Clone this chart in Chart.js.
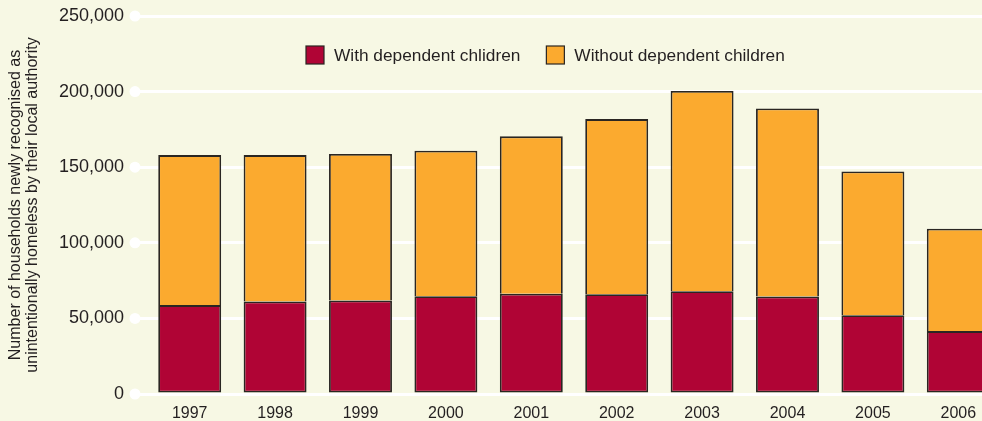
<!DOCTYPE html>
<html>
<head>
<meta charset="utf-8">
<title>Unintentionally homeless households</title>
<script src="https://cdn.jsdelivr.net/npm/chart.js@4"></script>
<style>
  html, body { margin: 0; padding: 0; background: #f7f8e4; overflow: hidden; }
  #wrap { width: 1002px; height: 421px; }
</style>
</head>
<body>
<div id="wrap"><canvas id="homelessChart" width="1002" height="421"></canvas></div>
<script>
const years = ['1997', '1998', '1999', '2000', '2001', '2002', '2003', '2004', '2005', '2006'];
// households
const withChildren    = [58800, 61200, 61900, 64700, 66300, 66000, 68000, 64500, 52100, 41600];
const withoutChildren = [99200, 96800, 96800, 96200, 104100, 115800, 132400, 124400, 95100, 67700];
const yTicks = [0, 50000, 100000, 150000, 200000, 250000];

const textColor = '#231f20';
const fontFamily = '"Liberation Sans", Arial, Helvetica, sans-serif';

// white dots at the left end of every gridline
const tickDots = {
  id: 'tickDots',
  afterDraw(chart) {
    const y = chart.scales.y;
    const ctx = chart.ctx;
    ctx.save();
    ctx.fillStyle = '#ffffff';
    y.ticks.forEach(t => {
      const py = y.getPixelForValue(t.value);
      ctx.beginPath();
      ctx.arc(y.right - 12, py, 5.5, 0, Math.PI * 2);
      ctx.fill();
    });
    ctx.restore();
  }
};

// legend sits inside the plot area, under the top gridline
const innerLegend = {
  id: 'innerLegend',
  afterDraw(chart) {
    const ctx = chart.ctx;
    const box = 18;
    let x = chart.chartArea.left + 159;
    const cy = chart.chartArea.top + 39;
    ctx.save();
    ctx.font = '17.3px ' + fontFamily;
    ctx.textBaseline = 'middle';
    chart.data.datasets.forEach(ds => {
      ctx.fillStyle = ds.backgroundColor;
      ctx.fillRect(x, cy - box / 2, box, box);
      ctx.strokeStyle = ds.borderColor;
      ctx.lineWidth = 1.2;
      ctx.strokeRect(x, cy - box / 2, box, box);
      ctx.fillStyle = textColor;
      ctx.fillText(ds.label, x + box + 10, cy + 1);
      x += box + 10 + ctx.measureText(ds.label).width + 26;
    });
    ctx.restore();
  }
};

new Chart(document.getElementById('homelessChart'), {
  type: 'bar',
  data: {
    labels: years,
    datasets: [
      {
        label: 'With dependent chlidren',
        data: withChildren,
        backgroundColor: '#b00435',
        borderColor: '#2a2622',
        borderWidth: 1.8,
        borderSkipped: false,
        barPercentage: 0.737,
        categoryPercentage: 1
      },
      {
        label: 'Without dependent children',
        data: withoutChildren,
        backgroundColor: '#fbaa2f',
        borderColor: '#2a2622',
        borderWidth: 1.8,
        borderSkipped: 'start',   // the red bar's top edge already draws the divider
        barPercentage: 0.737,
        categoryPercentage: 1
      }
    ]
  },
  options: {
    responsive: false,
    animation: false,
    layout: { padding: { top: 16, right: 1, bottom: 0, left: 0 } },
    plugins: {
      legend: { display: false },
      tooltip: { enabled: false }
    },
    scales: {
      x: {
        stacked: true,
        grid: { display: false },
        border: { display: false },
        ticks: { color: textColor, font: { family: fontFamily, size: 16 }, padding: 2 },
        afterFit(scale) { scale.height = 27; }
      },
      y: {
        stacked: true,
        min: 0,
        max: 250000,
        afterBuildTicks(scale) { scale.ticks = yTicks.map(v => ({ value: v })); },
        grid: {
          color: '#ffffff',
          lineWidth: 3,
          drawTicks: true,
          tickLength: 12,
          tickColor: '#ffffff',
          tickWidth: 3
        },
        border: { display: false },
        ticks: {
          color: textColor,
          font: { family: fontFamily, size: 18 },
          padding: 11,
          callback: v => v.toLocaleString('en-US')
        },
        title: {
          display: true,
          text: ['Number of households newly recognised as', 'unintentionally homeless by their local authority'],
          color: textColor,
          font: { family: fontFamily, size: 16, lineHeight: 1.07 },
          padding: { top: 7, bottom: 0 }
        },
        afterFit(scale) {
          scale.width = 147;
          scale.paddingTop = 0;
          scale.paddingBottom = 0;
        }
      }
    }
  },
  plugins: [tickDots, innerLegend]
});
</script>
</body>
</html>
